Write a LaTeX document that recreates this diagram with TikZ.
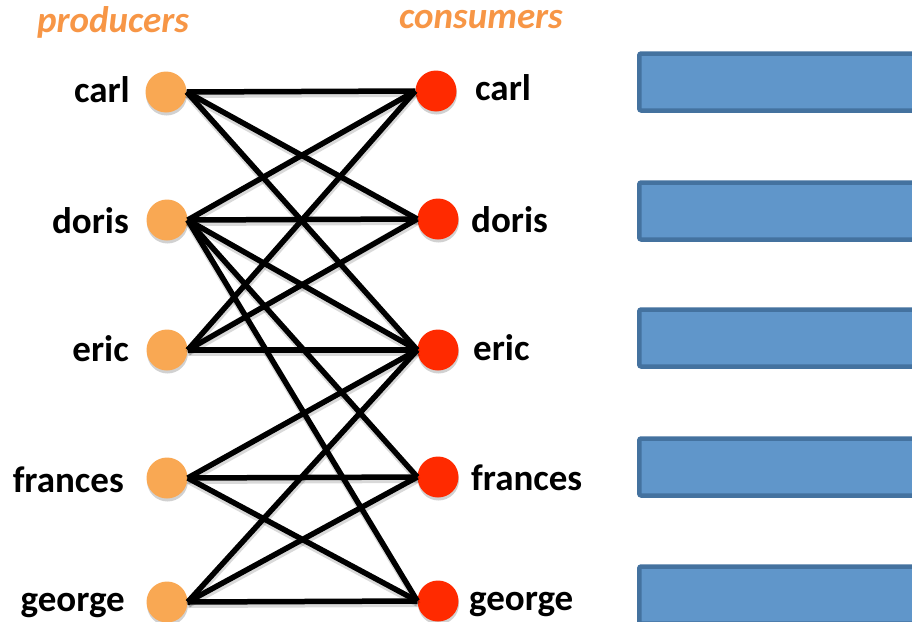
\documentclass[tikz,border=0pt]{standalone}
\usepackage{fontspec}
\setmainfont{Carlito}
\usetikzlibrary{shadows}
\definecolor{prodfill}{HTML}{F9A853}
\definecolor{consfill}{HTML}{FF2A00}
\definecolor{titleorange}{HTML}{F79646}
\definecolor{barfill}{HTML}{6096CA}
\definecolor{barline}{HTML}{44729F}
\tikzset{
  dot/.style={circle, minimum size=41pt, inner sep=0pt,
    drop shadow={shadow xshift=0.5pt, shadow yshift=-3pt, opacity=0.3, fill=black!60}},
  prod/.style={dot, fill=prodfill},
  cons/.style={dot, fill=consfill},
  who/.style={font=\fontsize{37}{40}\selectfont\bfseries, inner sep=0pt},
  heading/.style={font=\fontsize{37}{40}\selectfont\bfseries\itshape, text=titleorange, inner sep=0pt},
  link/.style={line width=5.5pt, black,
    preaction={draw=black, opacity=0.15, line width=6pt, transform canvas={xshift=0.5pt, yshift=-3pt}}},
  bar/.style={draw=barline, fill=barfill, line width=4.5pt, rounded corners=2pt,
    minimum width=320pt, minimum height=57pt, anchor=west, inner sep=0pt}
}
\begin{document}
\begin{tikzpicture}[x=1pt, y=-1pt]
  \useasboundingbox (0,0) rectangle (912,621);
  \clip (0,0) rectangle (912,621);

  % column headings
  \node[heading] (hp) at (113,22) {producers};
  \node[heading] (hc) at (481,20) {consumers};

  % producers
  \node[prod] (p1) at (166,92)  {};
  \node[prod] (p2) at (167,220) {};
  \node[prod] (p3) at (167,350) {};
  \node[prod] (p4) at (167,478) {};
  \node[prod] (p5) at (167,602) {};

  % consumers
  \node[cons] (c1) at (436,91)  {};
  \node[cons] (c2) at (438,219) {};
  \node[cons] (c3) at (438,350) {};
  \node[cons] (c4) at (438,477) {};
  \node[cons] (c5) at (438,601) {};

  % names
  \node[who, anchor=east] (lp1) at (130,90)  {carl};
  \node[who, anchor=east] (lp2) at (129,221) {doris};
  \node[who, anchor=east] (lp3) at (129,349) {eric};
  \node[who, anchor=east] (lp4) at (124,480) {frances};
  \node[who, anchor=east] (lp5) at (125,605) {george};
  \node[who, anchor=west] (lc1) at (475,88)  {carl};
  \node[who, anchor=west] (lc2) at (471,220) {doris};
  \node[who, anchor=west] (lc3) at (473,348) {eric};
  \node[who, anchor=west] (lc4) at (471,478) {frances};
  \node[who, anchor=west] (lc5) at (469,604) {george};

  % who feeds whom
  \foreach \p/\c in {p1/c1, p1/c2, p1/c3,
                     p2/c1, p2/c2, p2/c3, p2/c4, p2/c5,
                     p3/c1, p3/c2, p3/c3,
                     p4/c3, p4/c4, p4/c5,
                     p5/c3, p5/c4, p5/c5}
    \draw[link] (\p.east) -- (\c.west);

  % bars on the right
  \node[bar] (b1) at (637,82)  {};
  \node[bar] (b2) at (637,211) {};
  \node[bar] (b3) at (637,338) {};
  \node[bar] (b4) at (637,467) {};
  \node[bar] (b5) at (637,595) {};
\end{tikzpicture}
\end{document}
